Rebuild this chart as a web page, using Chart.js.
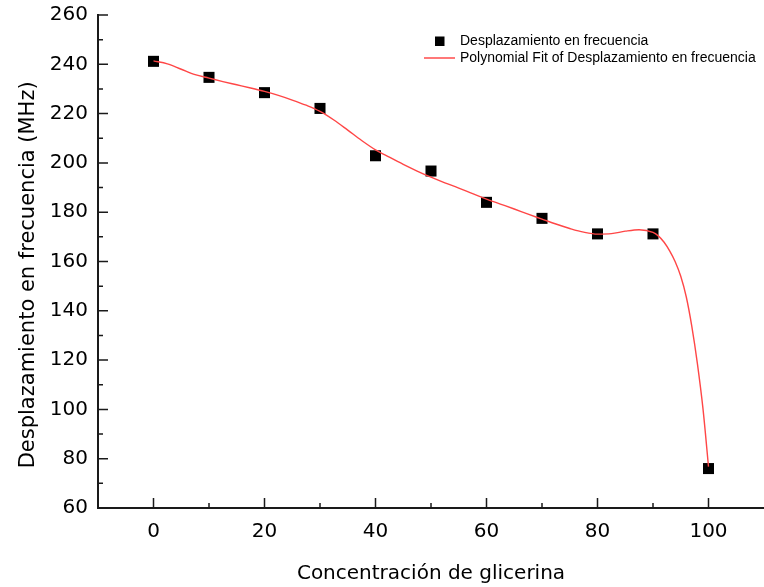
<!DOCTYPE html>
<html lang="es">
<head>
<meta charset="utf-8">
<title>Desplazamiento en frecuencia vs concentración de glicerina</title>
<script src="https://cdn.jsdelivr.net/npm/chart.js@4.4.1/dist/chart.umd.min.js"></script>
<style>
  html, body { margin: 0; padding: 0; background: #ffffff; overflow: hidden; }
  canvas { display: block; }
</style>
</head>
<body>
<canvas id="grafico" width="764" height="587"></canvas>
<script>
// Concentración de glicerina (%) y desplazamiento medido (MHz)
const concentracion = [0, 10, 20, 30, 40, 50, 60, 70, 80, 90, 100];
const desplazamiento = [241.2, 234.7, 228.5, 222.1, 202.9, 196.7, 184.0, 177.5, 171.2, 171.2, 76.0];

// Curva del ajuste polinomial
const ajusteX = [0, 2.5, 5, 7.5, 10, 12.5, 15, 17.5, 20, 22.5, 25, 27.5, 30, 32.5, 35, 37.5,
  40, 42.5, 45, 47.5, 50, 52.5, 55, 57.5, 60, 62.5, 65, 67.5, 70, 72.5, 75, 77.5, 80,
  82.5, 85, 87.5, 90, 91, 92, 93, 94, 95, 96, 97, 98, 99, 100];
const ajusteY = [241.4, 240.2, 238.0, 235.8, 234.4, 233.0, 231.7, 230.4, 229.0, 227.4, 225.5,
  223.4, 220.9, 217.4, 213.3, 209.1, 205.3, 202.3, 199.4, 196.7, 194.2, 191.9, 189.8, 187.5,
  185.3, 183.3, 181.3, 179.2, 177.2, 175.2, 173.4, 171.9, 171.1, 171.3, 172.3, 172.9, 171.8,
  170.3, 167.8, 164.3, 159.9, 154.0, 145.6, 133.6, 118.6, 100.4, 76.8];

// Marcas de los ejes
const xTicks = [0, 20, 40, 60, 80, 100];
const yTicks = [60, 80, 100, 120, 140, 160, 180, 200, 220, 240, 260];
const xMinor = [10, 30, 50, 70, 90];
const yMinor = [70, 90, 110, 130, 150, 170, 190, 210, 230, 250];

const serieLabel = 'Desplazamiento en frecuencia';
const ajusteLabel = 'Polynomial Fit of Desplazamiento en frecuencia';

const AXIS_COLOR = '#1a1a1a';
const FIT_COLOR = 'rgb(255, 70, 70)';
const TICK_FONT = { family: '"DejaVu Sans", sans-serif', size: 20 };

// Marcas de graduación hacia el interior del área del gráfico
const marcasInternas = {
  id: 'marcasInternas',
  afterDraw(chart) {
    const { ctx, chartArea, scales } = chart;
    ctx.save();
    ctx.strokeStyle = AXIS_COLOR;
    ctx.lineWidth = 1.5;
    ctx.beginPath();
    yTicks.forEach(v => {
      const y = scales.y.getPixelForValue(v);
      ctx.moveTo(chartArea.left, y); ctx.lineTo(chartArea.left + 10, y);
    });
    yMinor.forEach(v => {
      const y = scales.y.getPixelForValue(v);
      ctx.moveTo(chartArea.left, y); ctx.lineTo(chartArea.left + 5, y);
    });
    xTicks.forEach(v => {
      const x = scales.x.getPixelForValue(v);
      ctx.moveTo(x, chartArea.bottom); ctx.lineTo(x, chartArea.bottom - 10);
    });
    xMinor.forEach(v => {
      const x = scales.x.getPixelForValue(v);
      ctx.moveTo(x, chartArea.bottom); ctx.lineTo(x, chartArea.bottom - 5);
    });
    ctx.stroke();
    ctx.restore();
  }
};

// Leyenda dentro del área del gráfico
const leyenda = {
  id: 'leyenda',
  afterDraw(chart) {
    const { ctx } = chart;
    ctx.save();
    ctx.font = '14px "Liberation Sans", Arial, sans-serif';
    ctx.textBaseline = 'middle';
    ctx.fillStyle = '#000';
    ctx.fillRect(435, 36.5, 9.5, 9.5);
    ctx.fillText(serieLabel, 460, 41.5);
    ctx.strokeStyle = 'rgb(255, 120, 120)';
    ctx.lineWidth = 2;
    ctx.beginPath();
    ctx.moveTo(424, 58); ctx.lineTo(455, 58);
    ctx.stroke();
    ctx.fillStyle = '#000';
    ctx.fillText(ajusteLabel, 460, 58);
    ctx.restore();
  }
};

new Chart(document.getElementById('grafico'), {
  type: 'scatter',
  data: {
    datasets: [
      {
        type: 'line',
        label: ajusteLabel,
        data: ajusteX.map((x, i) => ({ x, y: ajusteY[i] })),
        borderColor: FIT_COLOR,
        borderWidth: 1.4,
        pointRadius: 0,
        cubicInterpolationMode: 'monotone',
        fill: false
      },
      {
        label: serieLabel,
        data: concentracion.map((x, i) => ({ x, y: desplazamiento[i] })),
        pointStyle: 'rect',
        pointRadius: 7.8,
        pointHoverRadius: 7.8,
        backgroundColor: '#000',
        borderWidth: 0
      }
    ]
  },
  options: {
    responsive: false,
    animation: false,
    layout: { autoPadding: false, padding: { top: 15, right: 0, left: 0, bottom: 0 } },
    plugins: {
      legend: { display: false },
      tooltip: { enabled: false }
    },
    scales: {
      x: {
        type: 'linear',
        min: -10,
        max: 110,
        afterBuildTicks: s => { s.ticks = xTicks.map(v => ({ value: v })); },
        afterFit: s => { s.height = 79; s.paddingLeft = 0; s.paddingRight = 0; },
        grid: { display: false, drawTicks: false },
        border: { display: true, color: AXIS_COLOR, width: 2 },
        ticks: { font: TICK_FONT, color: '#000', padding: 12, maxRotation: 0 },
        title: {
          display: true,
          text: 'Concentración de glicerina',
          font: { family: '"DejaVu Sans", sans-serif', size: 20 },
          color: '#000',
          padding: { top: 0, bottom: 1 }
        }
      },
      y: {
        type: 'linear',
        min: 60,
        max: 260,
        afterBuildTicks: s => { s.ticks = yTicks.map(v => ({ value: v })); },
        afterFit: s => { s.width = 98; s.paddingTop = 0; s.paddingBottom = 0; },
        grid: { display: false, drawTicks: false },
        border: { display: true, color: AXIS_COLOR, width: 2 },
        ticks: { font: TICK_FONT, color: '#000', padding: 10 },
        title: {
          display: true,
          text: 'Desplazamiento en frecuencia (MHz)    ',
          font: { family: '"DejaVu Sans", sans-serif', size: 21 },
          color: '#000',
          padding: { top: 16, bottom: 0 }
        }
      }
    }
  },
  plugins: [marcasInternas, leyenda]
});
</script>
</body>
</html>
